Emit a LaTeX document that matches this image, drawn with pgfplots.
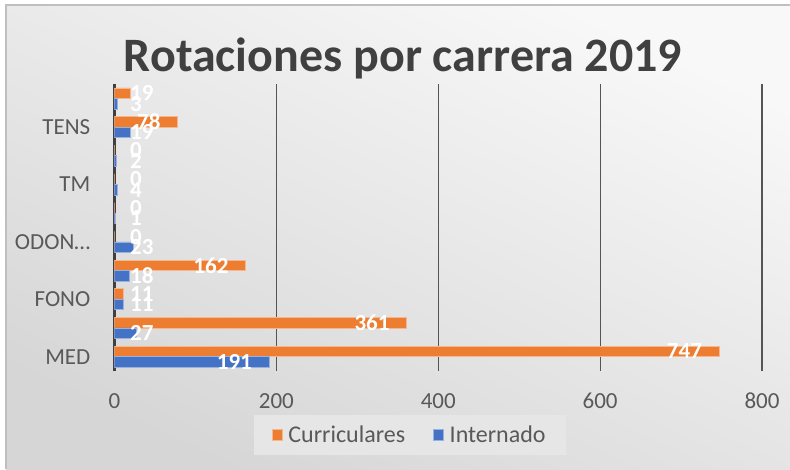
\documentclass[border=0pt]{standalone}
\usepackage{fontspec}
\setmainfont{Carlito}
\usepackage{pgfplots}
\pgfplotsset{compat=1.18}
\definecolor{cur}{HTML}{ED7D31}
\definecolor{intc}{HTML}{4472C4}
\definecolor{txt}{HTML}{595959}
\definecolor{ttl}{HTML}{404040}
\definecolor{bgtop}{HTML}{F8F8F8}
\definecolor{bgbot}{HTML}{D6D6D6}
\definecolor{legbg}{HTML}{E6E6E6}
\definecolor{gridc}{HTML}{555555}
\begin{document}
\begin{tikzpicture}[x=1pt,y=1pt]
\path[use as bounding box] (0,0) rectangle (790,469);
\shade[top color=bgtop, bottom color=bgbot, shading angle=-25] (6,0) rectangle (790,464);
\draw[color=black!25, line width=1.5pt] (6,0) -- (6,464) -- (790,464);
\node[anchor=base, text=ttl, font=\fontsize{48}{52}\selectfont\bfseries] at (403,397) {Rotaciones por carrera 2019};
\begin{axis}[
  at={(114.5pt,98pt)}, anchor=south west,
  scale only axis, width=647.5pt, height=287pt,
  xmin=0, xmax=800, ymin=-0.5, ymax=9.5,
  xtick={0,200,400,600,800},
  ytick={0,2,4,6,8},
  yticklabels={MED,FONO,ODON…,TM,TENS},
  /pgf/number format/assume math mode=true,
  major tick length=0pt,
  axis line style={draw=none},
  xmajorgrids,
  grid style={color=gridc, line width=1.2pt},
  extra x ticks={0},
  extra x tick labels={},
  extra x tick style={grid style={color=ttl, line width=2.5pt}},
  ticklabel style={font=\fontsize{23}{26}\selectfont, text=txt},
  xticklabel style={anchor=north, inner sep=0pt, yshift=-22pt},
  yticklabel style={anchor=east, inner sep=0pt, xshift=-24pt},
  legend style={at={(0.456,-0.223)}, anchor=center, fill=legbg, draw=none,
    font=\fontsize{24}{27}\selectfont, text=txt, legend columns=2,
    inner xsep=18pt, inner ysep=9pt,
    /tikz/every even column/.append style={column sep=26pt}},
  legend image code/.code={\fill[#1] (0pt,-5.5pt) rectangle (10pt,5.5pt); \path (14pt,0pt);},
  legend cell align=left,
]
\addplot[xbar, bar width=10.5pt, bar shift=5.25pt, fill=cur, draw=cur!55!white, line width=0.5pt]
  coordinates {(747,0) (361,1) (11,2) (162,3) (0,4) (0,5) (0,6) (0,7) (78,8) (19,9)};
\addlegendentry{Curriculares}
\addplot[xbar, bar width=10.5pt, bar shift=-5.25pt, fill=intc, draw=intc!55!white, line width=0.5pt]
  coordinates {(191,0) (27,1) (11,2) (18,3) (23,4) (1,5) (4,6) (2,7) (19,8) (3,9)};
\addlegendentry{Internado}
% data labels: long bars (inside end)
\addplot[forget plot, draw=none, mark=none, point meta=explicit,
  nodes near coords, nodes near coords style={anchor=east, inner sep=0pt, xshift=-17pt, yshift=5.25pt,
  font=\fontsize{23}{26}\selectfont\bfseries, text=white}]
  coordinates {(747,0) [747] (361,1) [361] (162,3) [162] (78,8) [78]};
\addplot[forget plot, draw=none, mark=none, point meta=explicit,
  nodes near coords, nodes near coords style={anchor=east, inner sep=0pt, xshift=-17pt, yshift=-5.25pt,
  font=\fontsize{23}{26}\selectfont\bfseries, text=white}]
  coordinates {(191,0) [191]};
% data labels: short bars
\addplot[forget plot, draw=none, mark=none, point meta=explicit,
  nodes near coords, nodes near coords style={anchor=west, inner sep=0pt, xshift=15.5pt, yshift=5.25pt,
  font=\fontsize{23}{26}\selectfont\bfseries, text=white}]
  coordinates {(0,2) [11] (0,4) [0] (0,5) [0] (0,6) [0] (0,7) [0] (0,9) [19]};
\addplot[forget plot, draw=none, mark=none, point meta=explicit,
  nodes near coords, nodes near coords style={anchor=west, inner sep=0pt, xshift=15.5pt, yshift=-5.25pt,
  font=\fontsize{23}{26}\selectfont\bfseries, text=white}]
  coordinates {(0,1) [27] (0,2) [11] (0,3) [18] (0,4) [23] (0,5) [1] (0,6) [4] (0,7) [2] (0,8) [19] (0,9) [3]};
\end{axis}
\end{tikzpicture}
\end{document}
